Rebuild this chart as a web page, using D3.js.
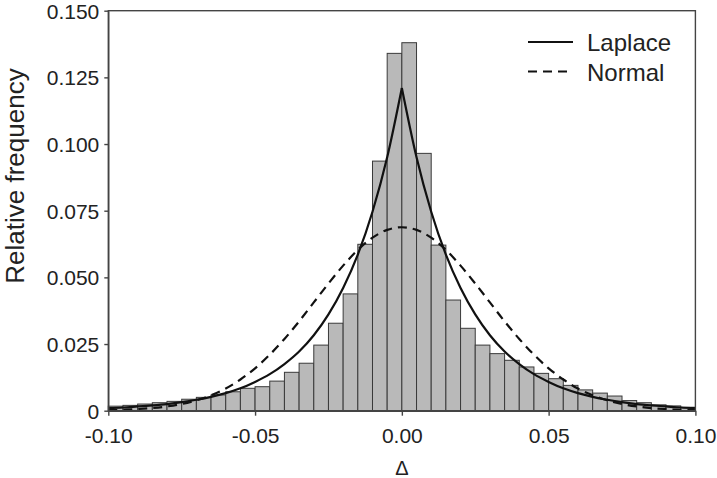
<!DOCTYPE html>
<html>
<head>
<meta charset="utf-8">
<script src="https://cdn.jsdelivr.net/npm/d3@7"></script>
<style>
  html, body { margin: 0; padding: 0; background: #fff; overflow: hidden; }
  svg { display: block; }
  text { font-family: "Liberation Sans", Arial, sans-serif; fill: #222; }
</style>
</head>
<body>
<svg id="chart" width="717" height="478"></svg>
<script>
// ---- Data ----
// Histogram bin left edges (bin width 0.005) from -0.100 to 0.095
const binWidth = 0.005;
const binStarts = d3.range(40).map(i => +(-0.1 + i * binWidth).toFixed(3));
const binFreq = [
  0.0017, 0.0020, 0.0025, 0.0030, 0.0035, 0.0043, 0.0050, 0.0059, 0.0071, 0.0084,
  0.0090, 0.0111, 0.0144, 0.0178, 0.0246, 0.0328, 0.0438, 0.0624, 0.0936, 0.1340,
  0.1380, 0.0965, 0.0621, 0.0415, 0.0309, 0.0246, 0.0214, 0.0189, 0.0164, 0.0140,
  0.0120, 0.0095, 0.0078, 0.0066, 0.0055, 0.0038, 0.0030, 0.0022, 0.0018, 0.0013
];
// Curve sample points at x = 0, 0.005, ..., 0.100 (symmetric)
const curveX = d3.range(21).map(i => +(i * 0.005).toFixed(3));
const laplaceY = [0.1210, 0.0950, 0.0746, 0.0585, 0.0460, 0.0361, 0.0283, 0.0222, 0.0175, 0.0137,
  0.0108, 0.0084, 0.0066, 0.0052, 0.0041, 0.0032, 0.0025, 0.0020, 0.0016, 0.0012, 0.0010];
const normalY = [0.0688, 0.0678, 0.0649, 0.0603, 0.0544, 0.0477, 0.0406, 0.0335, 0.0269, 0.0210,
  0.0159, 0.0117, 0.0083, 0.0058, 0.0039, 0.0025, 0.0016, 0.0010, 0.0006, 0.0003, 0.0002];
const xTicks = [-0.10, -0.05, 0.00, 0.05, 0.10];
const xTickLabels = ["-0.10", "-0.05", "0.00", "0.05", "0.10"];
const yTicks = [0, 0.025, 0.050, 0.075, 0.100, 0.125, 0.150];
const yTickLabels = ["0", "0.025", "0.050", "0.075", "0.100", "0.125", "0.150"];
const legendLabels = ["Laplace", "Normal"];

// ---- Layout ----
const svg = d3.select("#chart");
const L = 108.3, R = 695.4, T = 10.7, B = 410.7;
const x = d3.scaleLinear().domain([-0.1, 0.1]).range([L, R]);
const y = d3.scaleLinear().domain([0, 0.15]).range([B, T]);
const axisColor = "#444";

// Bars
svg.append("g").selectAll("rect").data(binStarts).join("rect")
  .attr("x", (d) => x(d))
  .attr("width", (d) => x(d + binWidth) - x(d))
  .attr("y", (d, i) => y(binFreq[i]))
  .attr("height", (d, i) => y(0) - y(binFreq[i]))
  .attr("fill", "#b9b9b9")
  .attr("stroke", "#3a3a3a")
  .attr("stroke-width", 1);

// Curves
const line = d3.line().x(d => x(d[0])).y(d => y(d[1])).curve(d3.curveMonotoneX);
const lapRight = curveX.map((cx, i) => [cx, laplaceY[i]]);
const lapLeft = curveX.map((cx, i) => [-cx, laplaceY[i]]).reverse();
const normPts = curveX.slice(1).map((cx, i) => [-cx, normalY[i + 1]]).reverse()
  .concat(curveX.map((cx, i) => [cx, normalY[i]]));

svg.append("path").attr("d", line(lapLeft)).attr("fill", "none")
  .attr("stroke", "#111").attr("stroke-width", 2.2);
svg.append("path").attr("d", line(lapRight)).attr("fill", "none")
  .attr("stroke", "#111").attr("stroke-width", 2.2);
svg.append("path").attr("d", line(normPts)).attr("fill", "none")
  .attr("stroke", "#111").attr("stroke-width", 2.2).attr("stroke-dasharray", "9,6");

// Frame
svg.append("rect").attr("x", L).attr("y", T).attr("width", R - L).attr("height", B - T)
  .attr("fill", "none").attr("stroke", axisColor).attr("stroke-width", 1.4);

// Axes
const xAxis = d3.axisBottom(x).tickValues(xTicks).tickSize(5).tickSizeOuter(0)
  .tickFormat((d, i) => xTickLabels[i]);
const gx = svg.append("g").attr("transform", `translate(0,${B})`).call(xAxis);
gx.select(".domain").attr("stroke", axisColor).attr("stroke-width", 1.4);
gx.selectAll(".tick line").attr("stroke", axisColor).attr("stroke-width", 1.4);
gx.selectAll(".tick text").attr("font-size", 21).attr("fill", "#222")
  .attr("font-family", "'Liberation Sans', Arial, sans-serif")
  .attr("y", 0).attr("dy", 0).attr("transform", "translate(0,32)");

const yAxis = d3.axisLeft(y).tickValues(yTicks).tickSize(4).tickSizeOuter(0)
  .tickFormat((d, i) => yTickLabels[i]);
const gy = svg.append("g").attr("transform", `translate(${L},0)`).call(yAxis);
gy.select(".domain").attr("stroke", axisColor).attr("stroke-width", 1.4);
gy.selectAll(".tick line").attr("stroke", axisColor).attr("stroke-width", 1.4);
gy.selectAll(".tick text").attr("font-size", 21).attr("fill", "#222")
  .attr("font-family", "'Liberation Sans', Arial, sans-serif")
  .attr("x", -9).attr("dy", "0.36em");

// Axis titles
svg.append("text").attr("transform", "translate(24,176) rotate(-90)")
  .attr("text-anchor", "middle").attr("font-size", 26).text("Relative frequency");
svg.append("text").attr("x", x(0)).attr("y", 475).attr("text-anchor", "middle")
  .attr("font-size", 20).text("Δ");

// Legend
const lg = svg.append("g");
[0, 1].forEach(i => {
  const ly = 42 + i * 29.5;
  lg.append("line").attr("x1", 528).attr("x2", 573).attr("y1", ly).attr("y2", ly)
    .attr("stroke", "#111").attr("stroke-width", 2.2)
    .attr("stroke-dasharray", i === 1 ? "9,6" : null);
  lg.append("text").attr("x", 587).attr("y", ly + 9).attr("font-size", 24).text(legendLabels[i]);
});
</script>
</body>
</html>
